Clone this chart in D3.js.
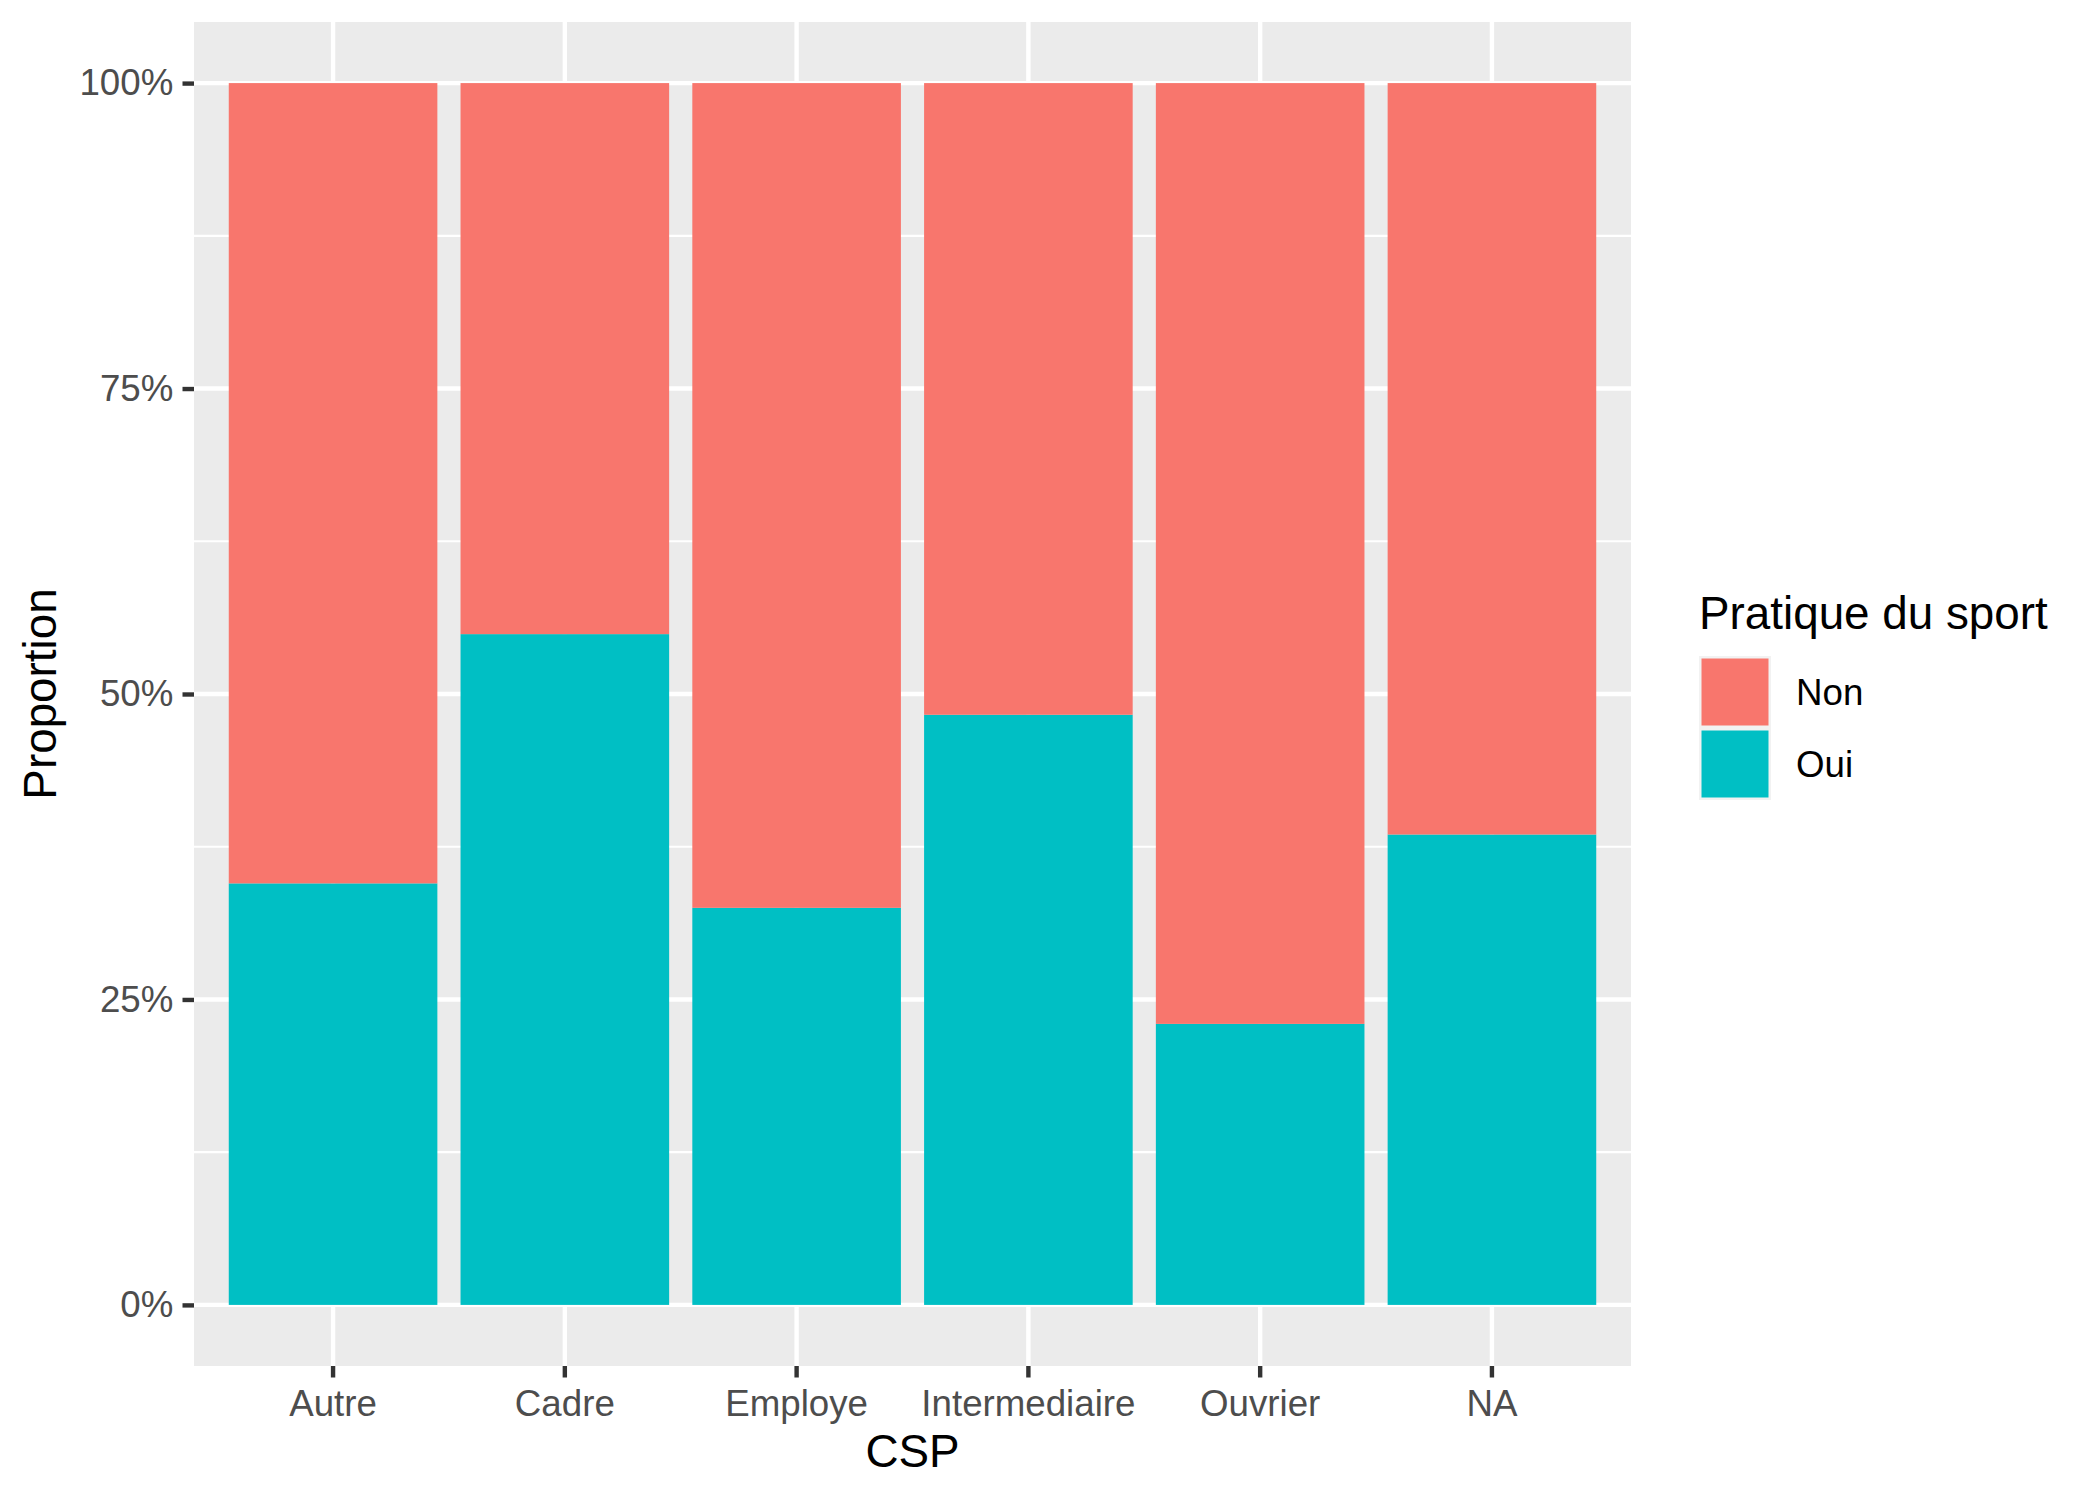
<!DOCTYPE html>
<html>
<head>
<meta charset="utf-8">
<script src="https://cdn.jsdelivr.net/npm/d3@7"></script>
<style>
  body { margin: 0; background: #fff; }
  text { font-family: "Liberation Sans", Arial, sans-serif; }
</style>
</head>
<body>
<script>
// proportions
const categories = ['Autre', 'Cadre', 'Employe', 'Intermediaire', 'Ouvrier', 'NA'];
const oui = [0.345, 0.549, 0.325, 0.483, 0.230, 0.385];
const non = [0.655, 0.451, 0.675, 0.517, 0.770, 0.615];
const groups = ['Non', 'Oui'];
const yTicks = [0, 0.25, 0.5, 0.75, 1];
const yMinor = [0.125, 0.375, 0.625, 0.875];

const width = 2100,
    height = 1500;
const panel = { left: 194, right: 1631, top: 22, bottom: 1366 };

const colors = d3.scaleOrdinal().domain(groups).range(['#F8766D', '#00BFC4']);

const rows = categories.map((c, i) => ({ csp: c, Non: non[i], Oui: oui[i] }));

// Oui at the bottom, Non on top
const stack = d3.stack()
    .keys(['Oui', 'Non'])
    .offset(d3.stackOffsetExpand);
const series = stack(rows);

const x = d3.scaleBand()
    .domain(categories)
    .range([panel.left, panel.right])
    .paddingInner(0.1)
    .paddingOuter(0.15);

const y = d3.scaleLinear()
    .domain([-0.05, 1.05])
    .range([panel.bottom, panel.top]);

const svg = d3.select('body').append('svg')
    .attr('width', width)
    .attr('height', height);

/* ------- PANEL + GRID -------*/
svg.append('rect')
    .attr('x', panel.left)
    .attr('y', panel.top)
    .attr('width', panel.right - panel.left)
    .attr('height', panel.bottom - panel.top)
    .attr('fill', '#EBEBEB');

const grid = svg.append('g').attr('class', 'grid');

grid.selectAll('line.minor')
    .data(yMinor)
    .enter().append('line')
    .attr('class', 'minor')
    .attr('x1', panel.left).attr('x2', panel.right)
    .attr('y1', d => y(d)).attr('y2', d => y(d))
    .attr('stroke', '#fff')
    .attr('stroke-width', 2.2);

grid.selectAll('line.majory')
    .data(yTicks)
    .enter().append('line')
    .attr('class', 'majory')
    .attr('x1', panel.left).attr('x2', panel.right)
    .attr('y1', d => y(d)).attr('y2', d => y(d))
    .attr('stroke', '#fff')
    .attr('stroke-width', 4.4);

grid.selectAll('line.majorx')
    .data(categories)
    .enter().append('line')
    .attr('class', 'majorx')
    .attr('x1', d => x(d) + x.bandwidth() / 2).attr('x2', d => x(d) + x.bandwidth() / 2)
    .attr('y1', panel.top).attr('y2', panel.bottom)
    .attr('stroke', '#fff')
    .attr('stroke-width', 4.4);

/* ------- BARS -------*/
svg.append('g').attr('class', 'bars')
    .selectAll('g')
    .data(series)
    .enter().append('g')
    .attr('fill', d => colors(d.key))
    .selectAll('rect')
    .data(d => d)
    .enter().append('rect')
    .attr('x', d => x(d.data.csp))
    .attr('width', x.bandwidth())
    .attr('y', d => y(d[1]))
    .attr('height', d => y(d[0]) - y(d[1]));

/* ------- AXES -------*/
const yAxis = svg.append('g')
    .attr('transform', `translate(${panel.left},0)`)
    .call(d3.axisLeft(y).tickValues(yTicks).tickFormat(d3.format('.0%')).tickSize(11.5).tickPadding(9.2));

const xAxis = svg.append('g')
    .attr('transform', `translate(0,${panel.bottom})`)
    .call(d3.axisBottom(x).tickSize(11.5).tickPadding(9.2));

[yAxis, xAxis].forEach(a => {
    a.select('.domain').remove();
    a.selectAll('.tick line').attr('stroke', '#333333').attr('stroke-width', 4.4);
    a.selectAll('.tick text')
        .attr('fill', '#4D4D4D')
        .style('font-size', '36.7px')
        .style('font-family', '"Liberation Sans", Arial, sans-serif');
});
xAxis.selectAll('.tick text').attr('dy', '0.8em');

svg.append('text')
    .attr('x', (panel.left + panel.right) / 2)
    .attr('y', 1467)
    .attr('text-anchor', 'middle')
    .style('font-size', '45.8px')
    .text('CSP');

svg.append('text')
    .attr('transform', `translate(56,${(panel.top + panel.bottom) / 2}) rotate(-90)`)
    .attr('text-anchor', 'middle')
    .style('font-size', '45.8px')
    .text('Proportion');

/* ------- LEGEND -------*/
const legend = svg.append('g').attr('transform', 'translate(1699,0)');

legend.append('text')
    .attr('x', 0)
    .attr('y', 629)
    .style('font-size', '45.8px')
    .text('Pratique du sport');

const item = legend.selectAll('g.item')
    .data(groups)
    .enter().append('g')
    .attr('class', 'item')
    .attr('transform', (d, i) => `translate(0,${656 + i * 72})`);

item.append('rect')
    .attr('width', 72).attr('height', 72)
    .attr('fill', '#F2F2F2');

item.append('rect')
    .attr('x', 2.5).attr('y', 2.5)
    .attr('width', 67).attr('height', 67)
    .attr('fill', d => colors(d));

item.append('text')
    .attr('x', 97)
    .attr('y', 36)
    .attr('dy', '0.35em')
    .style('font-size', '36.7px')
    .text(d => d);
</script>
</body>
</html>
